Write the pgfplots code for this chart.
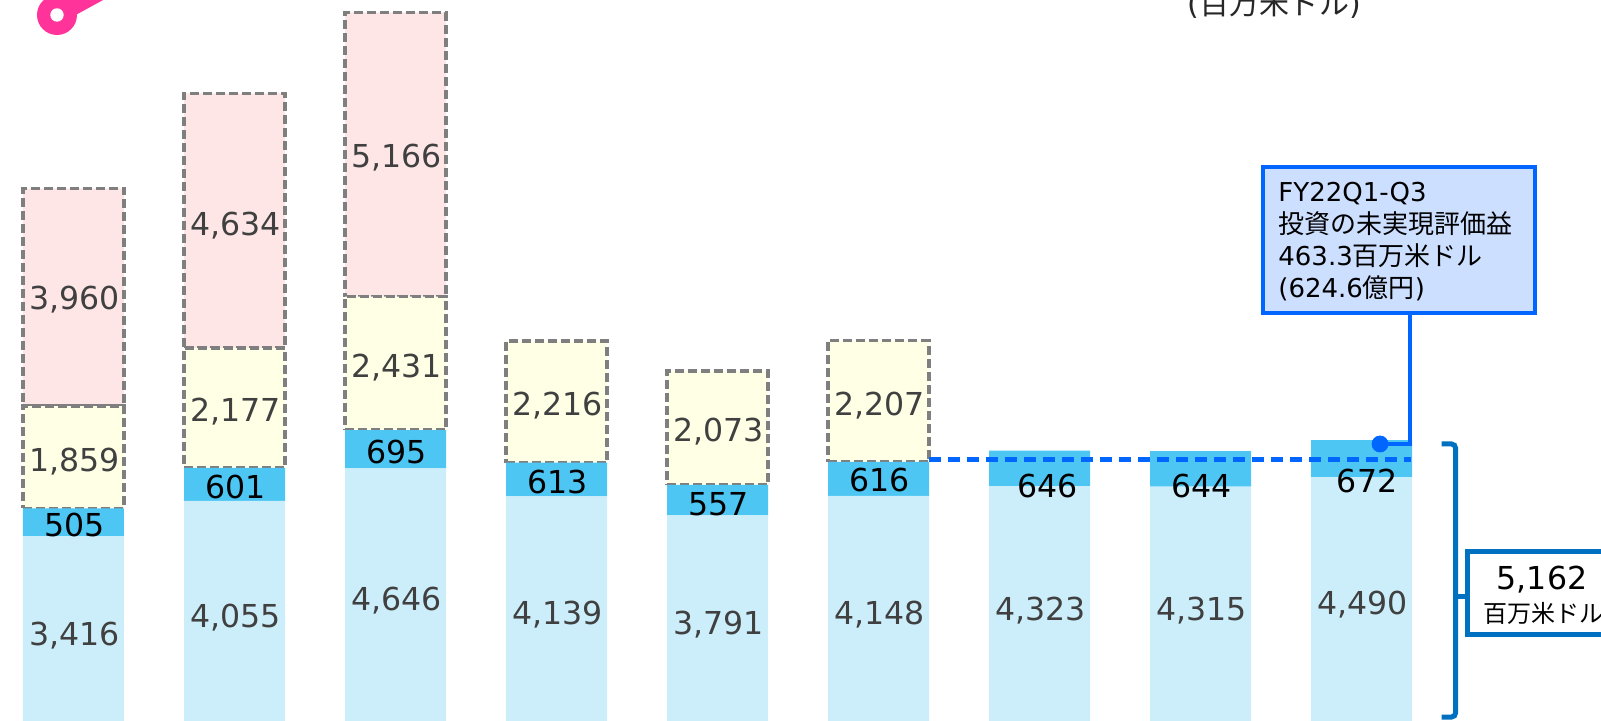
\documentclass[border=0pt]{standalone}
\usepackage{fontspec}
\usepackage{pgfplots}
\usepackage{pgfplotstable}
\pgfplotsset{compat=1.18}
\setmainfont{DejaVu Sans}
\newfontfamily\cjk{Noto Sans CJK JP}

\definecolor{lightbar}{HTML}{CCEEFB}
\definecolor{midbar}{HTML}{4DC6F4}
\definecolor{yellowbar}{HTML}{FFFFE5}
\definecolor{pinkbar}{HTML}{FEE6E7}
\definecolor{dashgray}{HTML}{7F7F7F}
\definecolor{callout}{HTML}{0066FF}
\definecolor{calloutfill}{HTML}{CCDFFF}
\definecolor{bracket}{HTML}{0070C0}
\definecolor{labelgray}{HTML}{404040}
\definecolor{keypink}{HTML}{FF3399}

% x y label: label positions
\pgfplotstableread{
x y label
0 1636 3,416
1 1964 4,055
2 2273 4,646
3 2018 4,139
4 1836 3,791
5 2018 4,148
6 2091 4,323
7 2091 4,315
8 2200 4,490
0 4791 1,859
1 5700 2,177
2 6500 2,431
3 5818 2,216
4 5345 2,073
5 5818 2,207
0 7745 3,960
1 9091 4,634
2 10327 5,166
}\graylabels
\pgfplotstableread{
x y label
0 3618 505
1 4309 601
2 4945 695
3 4400 613
4 4000 557
5 4436 616
6.044 4327 646
7.0 4327 644
8.03 4418 672
}\darklabels

\pgfplotsset{
  base/.style={
    at={(0,0)}, anchor=south west,
    scale only axis, width=800.5pt, height=360.5pt,
    xmin=-0.4565, xmax=9.4876, ymin=54.5, ymax=13164,
    hide axis,
  },
  seg/.style={fill=#1, draw=none},
  dseg/.style={fill=#1, draw=dashgray, line width=1.75pt, dash pattern=on 4.5pt off 2pt},
  lab/.style={
    only marks, mark=none, point meta=explicit symbolic,
    nodes near coords,
    nodes near coords style={anchor=center, inner sep=0pt, text height=11.5pt, text depth=0pt,
      xshift=0.4pt, font=\fontsize{15.8}{18}\selectfont, text=#1},
  },
}

\begin{document}
\begin{tikzpicture}
  \path[use as bounding box, clip] (0,0) rectangle (800.5pt,360.5pt);

  \begin{axis}[base, ybar stacked, bar width=50.5pt]
    \addplot[seg=lightbar] coordinates {
      (0,3416) (1,4055) (2,4646) (3,4139) (4,3791) (5,4148) (6,4323) (7,4315) (8,4490)};
    \addplot[seg=midbar] coordinates {
      (0,505) (1,601) (2,695) (3,613) (4,557) (5,616) (6,646) (7,644) (8,672)};
    \addplot[dseg=yellowbar] coordinates {
      (0,1859) (1,2177) (2,2431) (3,2216) (4,2073) (5,2207)};
    \addplot[dseg=pinkbar] coordinates {
      (0,3960) (1,4634) (2,5166)};
  \end{axis}

  \begin{axis}[base]
    \addplot[lab=labelgray] table [x=x, y=y, meta=label] {\graylabels};
    \addplot[lab=black] table [x=x, y=y, meta=label] {\darklabels};
    % dashed level line and leader of the callout
    \addplot[callout, line width=2.25pt, dash pattern=on 6pt off 3.5pt, forget plot]
      coordinates {(5.314,4809) (8.307,4809)};
    \addplot[callout, line width=2pt, forget plot]
      coordinates {(8.115,5091) (8.301,5091) (8.301,7473)};
    \addplot[only marks, mark=*, mark size=4pt, mark options={fill=callout, draw=callout}]
      coordinates {(8.115,5091)};
    % bracket
    \addplot[bracket, line width=2.5pt, rounded corners=2pt]
      coordinates {(8.497,5091) (8.584,5091) (8.584,127) (8.497,127)};
    \addplot[bracket, line width=2.5pt] coordinates {(8.584,2309) (8.655,2309)};
  \end{axis}

  \begin{scope}[shift={(0pt,360.5pt)}, x=0.5pt, y=-0.5pt]
    % pink key at the top left
    \draw[keypink, line width=9pt] (57,15) -- (130,-25);
    \fill[keypink] (57,15) circle (20);
    \fill[white] (57,15) circle (6.7);

    % unit
    \node[anchor=center, font=\fontsize{15}{17}\selectfont, text=labelgray!60!black] at (1274,4)
      {({\cjk 百万米ドル})};

    % callout box
    \draw[callout, fill=calloutfill, line width=1.75pt] (1263,167) rectangle (1535,313);
    \node[anchor=west, align=left, inner sep=0pt, font=\fontsize{13}{16}\selectfont] at (1278,242)
      {FY22Q1-Q3\\{\cjk 投資の未実現評価益}\\463.3{\cjk 百万米ドル}\\(624.6{\cjk 億円})};

    % total box, cut by the right edge
    \draw[bracket, fill=white, line width=2.5pt] (1467,552) rectangle (1620,635);
    \node[anchor=center, inner sep=0pt, text height=11.5pt, text depth=0pt, font=\fontsize{15.8}{18}\selectfont] at (1542,578) {5,162};
    \node[anchor=center, inner sep=0pt, font=\fontsize{12}{14}\selectfont\cjk] at (1543,613) {百万米ドル};
  \end{scope}
\end{tikzpicture}
\end{document}
